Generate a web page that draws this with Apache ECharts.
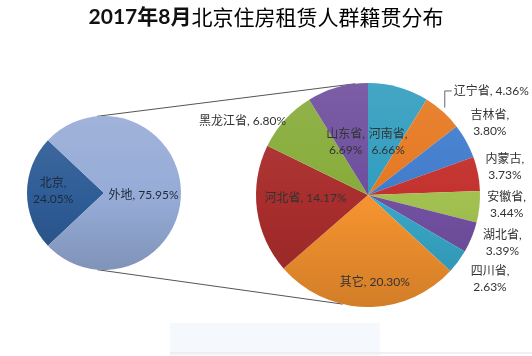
<!DOCTYPE html>
<html><head><meta charset="utf-8">
<script src="https://cdn.jsdelivr.net/npm/echarts@6/dist/echarts.min.js"></script>
<style>html,body{margin:0;padding:0;background:#fff}#c{width:532px;height:356px}</style>
</head><body><div id="c"></div>
<script>
// ---- data ----
const titleBold = '2017年8月';
const titleRest = '北京住房租赁人群籍贯分布';
const leftNames = ['北京', '外地'];
const leftValues = [24.05, 75.95];
const rightNames = ['河南省', '辽宁省', '吉林省', '内蒙古', '安徽省', '湖北省', '四川省', '其它', '河北省', '黑龙江省', '山东省'];
const rightValues = [6.66, 4.36, 3.80, 3.73, 3.44, 3.39, 2.63, 20.30, 14.17, 6.80, 6.69];

// ---- styles ----
const leftColors = ['#2E5C96', '#95ABD6'];
const rightColors = ['#2F9CBF', '#E5771F', '#3F7BCC', '#C3302D', '#A1C04F', '#7150A0', '#37A6C7', '#F4922F', '#A82D2C', '#86AB38', '#6C4C9C'];
const L = { cx: 104, cy: 193, r: 77 };
const R = { cx: 368, cy: 195, r: 112 };
// [radius factor, dx, dy, align, wrap]
const leftLabelStyle = [[0.66, 0, -2, 'center', true], [0.5, 1, 2, 'center', false]];
const rightLabelStyle = [
  [0.5, 5, 1, 'center', true],
  [1.2, -4, -4, 'left', false],
  [1.2, 4, -7, 'center', true],
  [1.2, 5, -2, 'center', true],
  [1.2, 5, -4, 'center', true],
  [1.2, 10, -3, 'center', true],
  [1.2, 14, 4, 'center', true],
  [0.8, 8, -2, 'center', false],
  [0.5, -7, -4, 'center', false],
  [1.0, 1, 1, 'right', false],
  [0.5, -7, 1, 'center', true]
];
const FONT = 'Lato, "Noto Sans CJK SC", sans-serif';

function sum(a) { return a.reduce((s, v) => s + v, 0); }
function midAngles(values, startTop) {
  const total = sum(values); let acc = 0;
  return values.map(v => { const m = startTop + (acc + v / 2) / total * 360; acc += v; return m; });
}
function pt(g, theta, f) {
  const a = theta * Math.PI / 180;
  return [g.cx + g.r * f * Math.sin(a), g.cy - g.r * f * Math.cos(a)];
}
function mix(hex, target, t) {
  const p = h => [1, 3, 5].map(i => parseInt(h.substr(i, 2), 16));
  const a = p(hex), b = p(target);
  return 'rgb(' + a.map((v, i) => Math.round(v + (b[i] - v) * t)).join(',') + ')';
}
function grad(g, c) {
  return new echarts.graphic.LinearGradient(0, g.cy - g.r, 0, g.cy + g.r, [
    { offset: 0, color: mix(c, '#FFFFFF', 0.10) },
    { offset: 0.55, color: c },
    { offset: 1, color: mix(c, '#000000', 0.14) }
  ], true);
}

const leftStartTop = 270 - leftValues[0] / sum(leftValues) * 180;
const leftStartAngle = 90 - leftStartTop;
const leftMid = midAngles(leftValues, leftStartTop);
const rightMid = midAngles(rightValues, 0);

function fmt(styles) {
  return function (p) {
    const s = styles[p.dataIndex];
    return p.name + ',' + (s[4] ? '\n' : ' ') + Number(p.value).toFixed(2) + '%';
  };
}
function layoutFn(g, mids, styles) {
  return function (p) {
    const s = styles[p.dataIndex];
    const c = pt(g, mids[p.dataIndex], s[0]);
    const out = { x: c[0] + s[1], y: c[1] + s[2], align: s[3], verticalAlign: 'middle' };
    if (p.dataIndex === 1 && g === R) {
      const e = pt(g, mids[1], 1.0);
      out.labelLinePoints = [[e[0] + 2, e[1] - 4], [e[0] + 2, out.y], [out.x - 2, out.y]];
    }
    return out;
  };
}

const conTopL = pt(L, 354.7, 1), conTopR = pt(R, 353.4, 1);
const conBotL = pt(L, 185, 1), conBotR = pt(R, 193, 1);

const chart = echarts.init(document.getElementById('c'), null, { renderer: 'canvas' });
chart.setOption({
  backgroundColor: '#fff',
  animation: false,
  title: {
    left: 'center', top: 7, padding: [0, 29, 0, 0],
    text: '{a|' + titleBold + '}{b|' + titleRest + '}',
    textStyle: {
      rich: {
        a: { fontFamily: FONT, fontSize: 21, fontWeight: 'bold', color: '#111' },
        b: { fontFamily: '"Noto Sans CJK SC"', fontSize: 21, fontWeight: 'normal', color: '#000' }
      }
    }
  },
  graphic: [
    { type: 'rect', z: -1, shape: { x: 170, y: 323, width: 210, height: 40 }, style: { fill: '#F5F9FD' } },
    { type: 'line', z: -1, shape: { x1: 170, y1: 353, x2: 532, y2: 353 }, style: { stroke: '#E2E2E2', lineWidth: 1 } },
    { type: 'line', shape: { x1: conTopL[0], y1: conTopL[1], x2: conTopR[0], y2: conTopR[1] }, style: { stroke: '#555', lineWidth: 1 } },
    { type: 'line', shape: { x1: conBotL[0], y1: conBotL[1], x2: conBotR[0], y2: conBotR[1] }, style: { stroke: '#555', lineWidth: 1 } }
  ],
  series: [
    {
      type: 'pie', center: [L.cx, L.cy], radius: L.r, startAngle: leftStartAngle, clockwise: true,
      avoidLabelOverlap: false, silent: true,
      data: leftNames.map((n, i) => ({ name: n, value: leftValues[i], itemStyle: { color: grad(L, leftColors[i]) } })),
      label: { show: true, position: 'inside', formatter: fmt(leftLabelStyle), fontFamily: FONT, fontSize: 12, lineHeight: 16, color: '#1E2A3A' },
      labelLine: { show: false },
      labelLayout: layoutFn(L, leftMid, leftLabelStyle)
    },
    {
      type: 'pie', center: [R.cx, R.cy], radius: R.r, startAngle: 90, clockwise: true,
      avoidLabelOverlap: false, silent: true,
      data: rightNames.map((n, i) => ({
        name: n, value: rightValues[i], itemStyle: { color: grad(R, rightColors[i]) },
        labelLine: { show: i === 1, lineStyle: { color: '#666', width: 1 } }
      })),
      label: { show: true, position: 'outside', formatter: fmt(rightLabelStyle), fontFamily: FONT, fontSize: 12, lineHeight: 16, color: '#333' },
      labelLine: { show: false, length: 5, length2: 5, smooth: false },
      labelLayout: layoutFn(R, rightMid, rightLabelStyle)
    }
  ]
});
</script></body></html>
